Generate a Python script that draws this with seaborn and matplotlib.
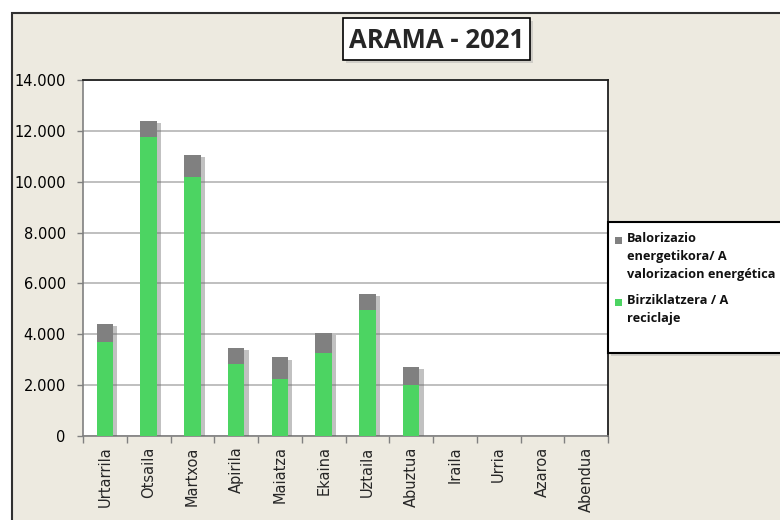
import matplotlib
matplotlib.use("Agg")
import matplotlib.pyplot as plt
import matplotlib.patheffects as pe
from matplotlib.patches import Rectangle
from matplotlib.ticker import FuncFormatter, FixedLocator
import pandas as pd
import seaborn as sns

# months and tonnage (0 = no data yet)
months = ["Urtarrila", "Otsaila", "Martxoa", "Apirila", "Maiatza", "Ekaina",
          "Uztaila", "Abuztua", "Iraila", "Urria", "Azaroa", "Abendua"]
recycling = [3710, 11750, 10200, 2820, 2240, 3280, 4960, 2020, 0, 0, 0, 0]
energy = [680, 630, 850, 630, 850, 770, 630, 710, 0, 0, 0, 0]

label_energy = "Balorizazio\nenergetikora/ A\nvalorizacion energética"
label_recycle = "Birziklatzera / A\nreciclaje"

GREEN = "#4CD462"
GREY = "#808080"
BEIGE = "#EDEAE0"
W, H = 780, 520


def fx(x):
    return x / W


def fy(y):
    return 1 - y / H


df = pd.DataFrame({"month": months, "recycling": recycling, "energy": energy})
df["total"] = df["recycling"] + df["energy"]

sns.set_theme(style="white")
plt.rcParams["font.family"] = ["DejaVu Sans"]

fig = plt.figure(figsize=(7.8, 5.2), dpi=100)
fig.patch.set_facecolor("white")

box_shadow = [pe.SimplePatchShadow(offset=(2, -2), shadow_rgbFace="#999999", alpha=0.35),
              pe.Normal()]

# beige chart area with dark border (cut off at right/bottom like the source)
bg = Rectangle((fx(12), -0.05), 1.0, fy(13) + 0.05, transform=fig.transFigure,
               facecolor=BEIGE, edgecolor="#303030", linewidth=1.5, zorder=-5)
fig.add_artist(bg)

ax = fig.add_axes([fx(83), fy(436), (608 - 83) / W, (436 - 80) / H])
ax.set_zorder(1)
ax.set_facecolor("white")

bar_shadow = [pe.SimplePatchShadow(offset=(3, -1.5), shadow_rgbFace="#666666", alpha=0.4),
              pe.Normal()]

# stacked bars: totals in grey, recycling drawn over them in green
sns.barplot(data=df, x="month", y="total", order=months, color=GREY,
            saturation=1, width=0.38, linewidth=0, ax=ax, zorder=3)
for p in ax.patches:
    if p.get_height() > 0:
        p.set_path_effects(bar_shadow)
sns.barplot(data=df, x="month", y="recycling", order=months, color=GREEN,
            saturation=1, width=0.38, linewidth=0, ax=ax, zorder=4)

ax.set_xlim(-0.5, 11.5)
ax.set_ylim(0, 14000)
ax.set_yticks(range(0, 14001, 2000))
ax.yaxis.set_major_formatter(FuncFormatter(lambda v, _: f"{int(v):,}".replace(",", ".")))
ax.grid(axis="y", color="#B4B4B4", linewidth=1.2, zorder=1)
ax.set_axisbelow(True)

ax.set_xlabel("")
ax.set_ylabel("")
ax.tick_params(axis="y", left=True, length=4, color="#808080", width=1,
               labelsize=10.5, colors="black", pad=8.5)
ax.tick_params(axis="x", bottom=False, labelsize=10.5, rotation=90, pad=1.5)
ax.xaxis.set_minor_locator(FixedLocator([i - 0.5 for i in range(13)]))
ax.tick_params(axis="x", which="minor", bottom=True, length=5, color="#808080", width=1)

for side in ["left", "bottom"]:
    ax.spines[side].set_color("#808080")
    ax.spines[side].set_linewidth(1.2)
for side in ["top", "right"]:
    ax.spines[side].set_color("#202020")
    ax.spines[side].set_linewidth(1.3)

# title box
title_box = Rectangle((fx(343), fy(60)), (530 - 343) / W, 42 / H, transform=fig.transFigure,
                      facecolor="white", edgecolor="black", linewidth=1.2, zorder=2)
title_box.set_path_effects(box_shadow)
fig.add_artist(title_box)
fig.text(fx(436.5), fy(40), "ARAMA - 2021", ha="center", va="center",
         fontsize=18.5, fontweight="bold", family=["Open Sans", "DejaVu Sans"], zorder=3)

# legend box, drawn by hand so each swatch sits on the first line of its label
leg_box = Rectangle((fx(608), fy(353)), 0.3, 131 / H, transform=fig.transFigure,
                    facecolor="white", edgecolor="black", linewidth=1.5, zorder=2)
leg_box.set_path_effects(box_shadow)
fig.add_artist(leg_box)
legend_items = [(label_energy, GREY, 240), (label_recycle, GREEN, 302)]
for text, colour, y0 in legend_items:
    fig.add_artist(Rectangle((fx(615), fy(y0 + 3.5)), 7 / W, 7 / H,
                             transform=fig.transFigure, facecolor=colour,
                             edgecolor="none", zorder=3))
    fig.text(fx(627), fy(y0 - 8), text, ha="left", va="top", fontsize=9.2,
             fontweight="bold", family=["Open Sans", "DejaVu Sans"],
             linespacing=1.5, color="#111111", zorder=3)

fig.savefig("out.png", dpi=100, facecolor=fig.get_facecolor())
